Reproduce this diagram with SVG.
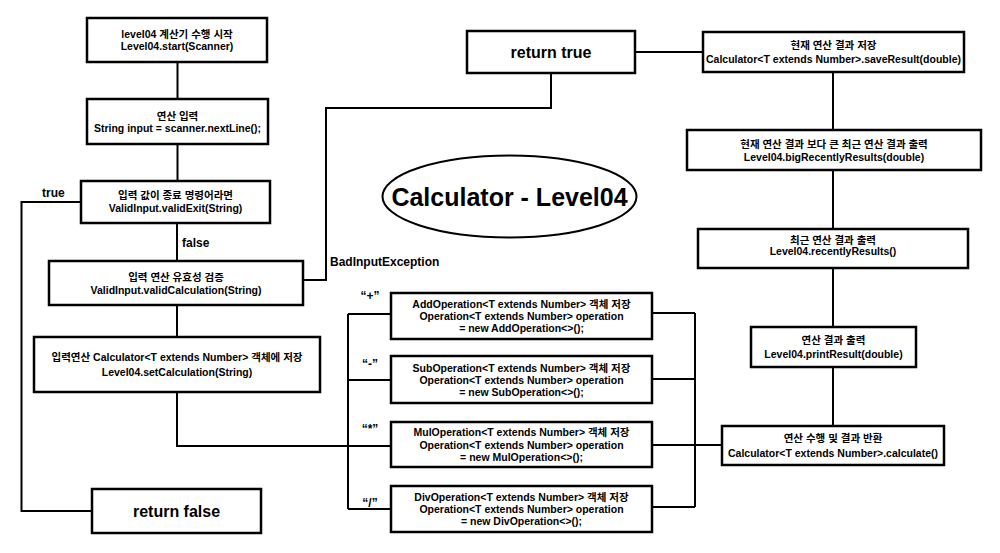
<svg xmlns="http://www.w3.org/2000/svg" width="1000" height="553" viewBox="0 0 1000 553">
  <style>
    .box { fill: #fff; stroke: #000; stroke-width: 2.5; }
    .wire { fill: none; stroke: #000; stroke-width: 2; }
    text { font-family: "Liberation Sans", "Noto Sans CJK KR", sans-serif; font-weight: bold; fill: #000; dominant-baseline: central; }
    .t { font-size: 10.5px; text-anchor: middle; }
    .lbl { font-size: 12px; }
    .q { font-size: 12px; text-anchor: middle; }
    .big { font-size: 16px; text-anchor: middle; }
    .title { font-size: 25px; text-anchor: middle; }
  </style>
  <rect width="1000" height="553" fill="#fff"/>

  <!-- connectors -->
  <g id="connectors">
    <path class="wire" d="M177.5,62 V99"/>
    <path class="wire" d="M177.5,144 V181"/>
    <path class="wire" d="M177,223 V261"/>
    <path class="wire" d="M81,202 H21.5 V511 H92"/>
    <path class="wire" d="M177,305 V337"/>
    <path class="wire" d="M303,280 H326 V108 H551 V73"/>
    <path class="wire" d="M635,52 H703"/>
    <path class="wire" d="M833,72 V130"/>
    <path class="wire" d="M833,170 V229"/>
    <path class="wire" d="M833,268 V327"/>
    <path class="wire" d="M833,367 V426"/>
    <path class="wire" d="M177,392 V446 H391"/>
    <path class="wire" d="M348,314 V509"/>
    <path class="wire" d="M348,314 H391"/>
    <path class="wire" d="M348,380 H391"/>
    <path class="wire" d="M348,509 H391"/>
    <path class="wire" d="M695,313 V507"/>
    <path class="wire" d="M652,313 H695"/>
    <path class="wire" d="M652,379 H695"/>
    <path class="wire" d="M652,445 H722"/>
    <path class="wire" d="M652,507 H695"/>
    <text class="lbl" x="42" y="193">true</text>
    <text class="lbl" x="182" y="243">false</text>
    <text class="lbl" x="330" y="262">BadInputException</text>
    <text class="q" x="370" y="296">“+”</text>
    <text class="q" x="370" y="364">“-”</text>
    <text class="q" x="370" y="429">“*”</text>
    <text class="q" x="370" y="503">“/”</text>
  </g>

  <g id="title">
    <ellipse cx="509.5" cy="196.5" rx="127" ry="41" fill="#fff" stroke="#000" stroke-width="2"/>
    <text class="title" x="509.5" y="197">Calculator - Level04</text>
  </g>

  <g id="start">
    <rect class="box" x="87" y="18" width="180" height="44"/>
    <text class="t" x="177" y="33.5">level04 계산기 수행 시작</text>
    <text class="t" x="177" y="46">Level04.start(Scanner)</text>
  </g>

  <g id="input">
    <rect class="box" x="87" y="99" width="181" height="45"/>
    <text class="t" x="177.5" y="116">연산 입력</text>
    <text class="t" x="177.5" y="128">String input = scanner.nextLine();</text>
  </g>

  <g id="validExit">
    <rect class="box" x="81" y="181" width="189" height="42"/>
    <text class="t" x="175.5" y="195">입력 값이 종료 명령어라면</text>
    <text class="t" x="175.5" y="208">ValidInput.validExit(String)</text>
  </g>

  <g id="validCalculation">
    <rect class="box" x="49" y="261" width="254" height="44"/>
    <text class="t" x="176" y="277">입력 연산 유효성 검증</text>
    <text class="t" x="176" y="290">ValidInput.validCalculation(String)</text>
  </g>

  <g id="setCalculation">
    <rect class="box" x="34" y="337" width="286" height="55"/>
    <text class="t" x="177" y="357">입력연산 Calculator&lt;T extends Number&gt; 객체에 저장</text>
    <text class="t" x="177" y="372">Level04.setCalculation(String)</text>
  </g>

  <g id="returnFalse">
    <rect class="box" x="92" y="489" width="169" height="44"/>
    <text class="big" x="176.5" y="511">return false</text>
  </g>

  <g id="returnTrue">
    <rect class="box" x="467" y="31" width="168" height="42"/>
    <text class="big" x="551" y="52">return true</text>
  </g>

  <g id="saveResult">
    <rect class="box" x="703" y="32" width="261" height="40"/>
    <text class="t" x="833.5" y="45">현재 연산 결과 저장</text>
    <text class="t" x="833.5" y="59">Calculator&lt;T extends Number&gt;.saveResult(double)</text>
  </g>

  <g id="bigRecentlyResults">
    <rect class="box" x="687" y="130" width="294" height="40"/>
    <text class="t" x="834" y="144">현재 연산 결과 보다 큰 최근 연산 결과 출력</text>
    <text class="t" x="834" y="157">Level04.bigRecentlyResults(double)</text>
  </g>

  <g id="recentlyResults">
    <rect class="box" x="698" y="229" width="270" height="39"/>
    <text class="t" x="833" y="240">최근 연산 결과 출력</text>
    <text class="t" x="833" y="251">Level04.recentlyResults()</text>
  </g>

  <g id="printResult">
    <rect class="box" x="751" y="327" width="165" height="40"/>
    <text class="t" x="833.5" y="340">연산 결과 출력</text>
    <text class="t" x="833.5" y="354">Level04.printResult(double)</text>
  </g>

  <g id="calculate">
    <rect class="box" x="722" y="426" width="222" height="39"/>
    <text class="t" x="833" y="438">연산 수행 및 결과 반환</text>
    <text class="t" x="833" y="453">Calculator&lt;T extends Number&gt;.calculate()</text>
  </g>

  <g id="addOperation">
    <rect class="box" x="391" y="293" width="261" height="46"/>
    <text class="t" x="521.5" y="304">AddOperation&lt;T extends Number&gt; 객체 저장</text>
    <text class="t" x="521.5" y="316">Operation&lt;T extends Number&gt; operation</text>
    <text class="t" x="521.5" y="328">= new AddOperation&lt;&gt;();</text>
  </g>

  <g id="subOperation">
    <rect class="box" x="391" y="356" width="261" height="47"/>
    <text class="t" x="521.5" y="368">SubOperation&lt;T extends Number&gt; 객체 저장</text>
    <text class="t" x="521.5" y="380">Operation&lt;T extends Number&gt; operation</text>
    <text class="t" x="521.5" y="392">= new SubOperation&lt;&gt;();</text>
  </g>

  <g id="mulOperation">
    <rect class="box" x="391" y="422" width="261" height="45"/>
    <text class="t" x="521.5" y="432">MulOperation&lt;T extends Number&gt; 객체 저장</text>
    <text class="t" x="521.5" y="445">Operation&lt;T extends Number&gt; operation</text>
    <text class="t" x="521.5" y="457">= new MulOperation&lt;&gt;();</text>
  </g>

  <g id="divOperation">
    <rect class="box" x="391" y="486" width="261" height="46"/>
    <text class="t" x="521.5" y="497">DivOperation&lt;T extends Number&gt; 객체 저장</text>
    <text class="t" x="521.5" y="509">Operation&lt;T extends Number&gt; operation</text>
    <text class="t" x="521.5" y="521">= new DivOperation&lt;&gt;();</text>
  </g>
</svg>
